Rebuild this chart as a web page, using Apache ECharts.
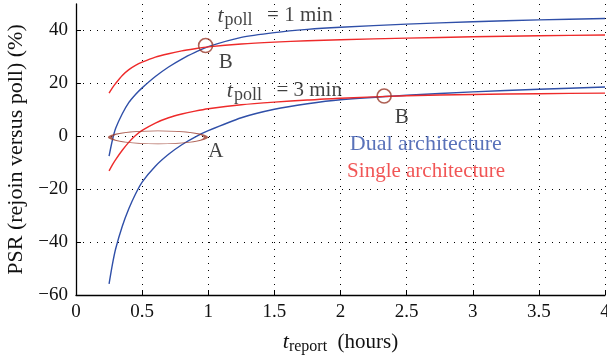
<!DOCTYPE html>
<html>
<head>
<meta charset="utf-8">
<script src="https://cdn.jsdelivr.net/npm/echarts@6/dist/echarts.min.js"></script>
<style>
  html, body { margin: 0; padding: 0; background: #fff; }
  #chart { width: 607px; height: 360px; }
</style>
</head>
<body>
<div id="chart"></div>
<script>
// t_report (hours)
var tReport = [0.25, 0.275, 0.3, 0.35, 0.4, 0.45, 0.5, 0.6, 0.7, 0.8, 0.9, 1, 1.25, 1.5, 1.75, 2, 2.5, 3, 3.5, 4];
// PSR (%)
var dual1 = [-7.5, -1.5, 3, 8.5, 12.8, 15.8, 18.3, 22.6, 26.2, 29.2, 31.7, 33.9, 37.4, 39.2, 40.4, 41.2, 42.4, 43.3, 44, 44.5];
var single1 = [16.3, 18.3, 20, 23, 25.2, 26.8, 28, 29.9, 31.2, 32.3, 33.1, 33.8, 34.9, 35.6, 36.1, 36.5, 37.1, 37.6, 38, 38.3];
var dual3 = [-55.8, -48.5, -42.5, -34, -27.3, -21.8, -17.3, -11.3, -6.8, -3.2, -0.3, 2.1, 7, 10.2, 12.3, 13.8, 15.5, 16.8, 17.8, 18.6];
var single3 = [-13.1, -10.8, -8.8, -5.3, -2.2, 0.3, 2.2, 5.0, 7.0, 8.4, 9.5, 10.4, 11.9, 12.9, 13.7, 14.4, 15.3, 15.8, 16.1, 16.3];

var xTicks = { min: 0, max: 4, interval: 0.5 };
var yTicks = { min: -60, max: 50, interval: 20 };

// annotation marks (data coords)
var circlesB = [[0.98, 34.3], [2.33, 15.2]];
var ellipseA = [[0.62, -0.4]];
var notes = [
  [1.07, 45.5, '{t|t}{p|poll}{n|  = 1 min}'],
  [1.14, 17.2, '{t|t}{p|poll}{n|  = 3 min}'],
  [1.08, 27.9, '{n|B}'],
  [2.41, 7.2, '{n|B}'],
  [1.0, -5.8, '{n|A}'],
  [2.07, -3, '{b|Dual architecture}'],
  [2.05, -13.2, '{r|Single architecture}']
];

var BLUE = '#2f4fa8';
var RED = '#ee2a2a';
var BROWN = '#9a3a2a';
var FONT = 'Liberation Serif';

function pairs(ys) {
  return tReport.map(function (x, i) { return [x, ys[i]]; });
}
function minus(v) {
  return String(v).replace('-', '\u2212');
}

var richText = {
  t: { fontFamily: FONT, fontStyle: 'italic', fontSize: 22, color: '#111', lineHeight: 26 },
  s: { fontFamily: FONT, fontSize: 16, color: '#111', lineHeight: 13, verticalAlign: 'bottom' },
  p: { fontFamily: FONT, fontSize: 18, color: '#111', lineHeight: 14, verticalAlign: 'bottom', padding: [0, 4, 0, 1] },
  n: { fontFamily: FONT, fontSize: 21, color: '#111', lineHeight: 26 },
  b: { fontFamily: FONT, fontSize: 22, color: BLUE },
  r: { fontFamily: FONT, fontSize: 21, color: RED }
};

var lineBase = { type: 'line', showSymbol: false, smooth: 0.25, z: 3 };

var chart = echarts.init(document.getElementById('chart'));
chart.setOption({
  animation: false,
  textStyle: { fontFamily: FONT },
  grid: { left: 76, right: 2, top: 4, bottom: 65, outerBoundsMode: 'none', containLabel: false },
  xAxis: {
    type: 'value',
    min: xTicks.min, max: xTicks.max, interval: xTicks.interval,
    name: '{t|t}{s|report}{n|  (hours)}',
    nameLocation: 'middle',
    nameGap: 34,
    nameTextStyle: { rich: richText },
    axisLine: { onZero: false, lineStyle: { color: '#000', width: 1.3 } },
    axisTick: { inside: true, length: 5, lineStyle: { color: '#000' } },
    axisLabel: { color: '#111', fontSize: 19, fontFamily: FONT, margin: 8, formatter: minus },
    splitLine: { show: true, showMinLine: false, lineStyle: { color: '#000', type: [1, 6], width: 1 } }
  },
  yAxis: {
    type: 'value',
    min: yTicks.min, max: yTicks.max, interval: yTicks.interval,
    name: 'PSR (rejoin versus poll) (%)',
    nameLocation: 'middle',
    nameGap: 48,
    nameTextStyle: { color: '#111', fontSize: 22, fontFamily: FONT },
    axisLine: { show: true, onZero: false, lineStyle: { color: '#000', width: 1.3 } },
    axisTick: { show: true, inside: true, length: 5, lineStyle: { color: '#000' } },
    axisLabel: {
      color: '#111', fontSize: 19, fontFamily: FONT, margin: 8,
      showMaxLabel: false,
      formatter: function (v) { return v === 50 ? '' : minus(v); }
    },
    splitLine: { show: true, showMinLine: false, showMaxLine: false, lineStyle: { color: '#000', type: [1, 6], width: 1 } }
  },
  series: [
    Object.assign({}, lineBase, { name: 'dual 1 min', data: pairs(dual1), lineStyle: { color: BLUE, width: 1.4 } }),
    Object.assign({}, lineBase, { name: 'single 1 min', data: pairs(single1), lineStyle: { color: RED, width: 1.4 } }),
    Object.assign({}, lineBase, { name: 'dual 3 min', data: pairs(dual3), lineStyle: { color: BLUE, width: 1.4 } }),
    Object.assign({}, lineBase, { name: 'single 3 min', data: pairs(single3), lineStyle: { color: RED, width: 1.4 } }),
    {
      type: 'scatter', data: circlesB, symbol: 'circle', symbolSize: 14, z: 4,
      itemStyle: { color: 'rgba(0,0,0,0)', borderColor: BROWN, borderWidth: 1.6 }
    },
    {
      type: 'scatter', data: ellipseA, symbol: 'circle', symbolSize: [96, 13], z: 4,
      itemStyle: { color: 'rgba(0,0,0,0)', borderColor: BROWN, borderWidth: 1.6 }
    },
    {
      type: 'scatter', data: notes, symbolSize: 0, z: 5,
      label: {
        show: true, position: 'right', distance: 0,
        formatter: function (p) { return p.data[2]; },
        rich: richText
      }
    }
  ]
});
</script>
</body>
</html>
